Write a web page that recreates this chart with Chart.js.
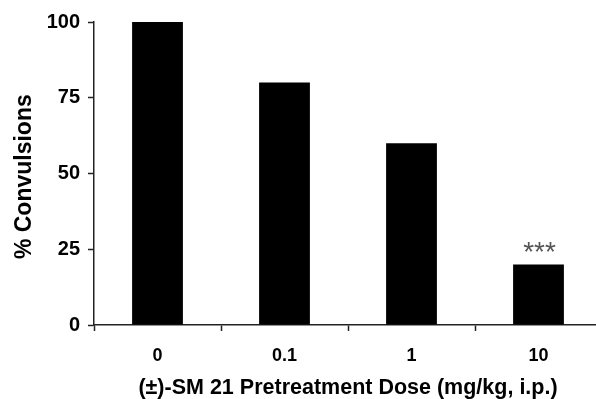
<!DOCTYPE html>
<html>
<head>
<meta charset="utf-8">
<script src="https://cdn.jsdelivr.net/npm/chart.js@4/dist/chart.umd.min.js"></script>
<style>
  html, body { margin: 0; padding: 0; overflow: hidden; background: #fff; }
  canvas { display: block; }
</style>
</head>
<body>
<canvas id="doseChart" width="605" height="399"></canvas>
<script>
// data
const doses = ['0', '0.1', '1', '10'];
const convulsions = [100, 80, 60, 20];
const signif = ['', '', '', '***'];
const yTicks = [0, 25, 50, 75, 100];

const FONT = '"Liberation Sans", Arial, Helvetica, sans-serif';

// asterisks above the bars
const starPlugin = {
  id: 'stars',
  afterDatasetsDraw(chart) {
    const c = chart.ctx;
    const bars = chart.getDatasetMeta(0).data;
    c.save();
    c.font = '28px ' + FONT;
    c.fillStyle = '#555';
    c.textAlign = 'center';
    c.textBaseline = 'alphabetic';
    signif.forEach(function(s, i) {
      if (!s) return;
      c.fillText(s, bars[i].x + 1, bars[i].y - 3);
    });
    c.restore();
  }
};

window.addEventListener("DOMContentLoaded", function() {
  const ctx = document.getElementById('doseChart');

  new Chart(ctx, {
    type: 'bar',
    data: {
      labels: doses,
      datasets: [{
        label: '% Convulsions',
        data: convulsions,
        backgroundColor: '#000',
        borderWidth: 0,
        barPercentage: 0.8,
        categoryPercentage: 0.5
      }]
    },
    options: {
      responsive: false,
      animation: false,
      layout: { padding: { top: 22, right: 3, bottom: 0, left: 0 } },
      plugins: {
        legend: { display: false },
        tooltip: { enabled: false }
      },
      scales: {
        x: {
          offset: true,
          grid: {
            offset: true,
            drawOnChartArea: false,
            drawTicks: true,
            tickLength: 6,
            tickWidth: 1.5,
            tickColor: '#222'
          },
          border: { color: '#222', width: 1.5 },
          ticks: {
            color: '#000',
            padding: 14,
            font: { family: FONT, size: 18, weight: 'bold' }
          },
          title: {
            display: true,
            text: '(±)-SM 21 Pretreatment Dose (mg/kg, i.p.)',
            color: '#000',
            padding: { top: 0, bottom: 0 },
            font: { family: FONT, size: 21.5, weight: 'bold', lineHeight: 1 }
          },
          afterFit: function(scale) { scale.height = 74; }
        },
        y: {
          min: 0,
          max: 100,
          afterBuildTicks: function(scale) {
            scale.ticks = yTicks.map(function(v) { return { value: v }; });
          },
          grid: {
            drawOnChartArea: false,
            drawTicks: true,
            tickLength: 6,
            tickWidth: 1.5,
            tickColor: '#222'
          },
          border: { color: '#222', width: 1.5 },
          ticks: {
            color: '#000',
            padding: 8,
            font: { family: FONT, size: 20, weight: 'bold' }
          },
          title: {
            display: true,
            text: '% Convulsions ',
            color: '#000',
            padding: { top: 13, bottom: 0 },
            font: { family: FONT, size: 23, weight: 'bold', lineHeight: 1 }
          },
          afterFit: function(scale) { scale.width = 94; }
        }
      }
    },
    plugins: [starPlugin]
  });
});
</script>
</body>
</html>
